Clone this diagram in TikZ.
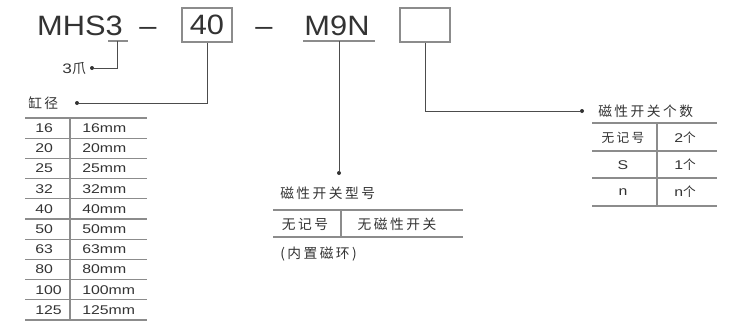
\documentclass[tikz,border=0pt]{standalone}
\usepackage{fontspec}
\setmainfont{Liberation Sans}[FakeStretch=1.1]
\newfontfamily\tabfont{Liberation Sans}[FakeStretch=1.25]
\newfontfamily\cjk{Noto Sans CJK SC}[LetterSpace=18]
\begin{document}
\begin{tikzpicture}[x=0.75pt,y=-0.75pt,
  code/.style={font=\fontsize{21}{21}\selectfont,text=black!80,inner sep=0pt},
  lbl/.style={font=\cjk\fontsize{10.3}{11}\selectfont,text=black!80,inner sep=0pt},
  cell/.style={font=\tabfont\fontsize{9.5}{10}\selectfont,text=black!80,inner sep=0pt},
  slot/.style={draw=black!45,line width=0.8pt,minimum width=37.5pt,minimum height=25.5pt,inner sep=0pt},
  rule/.style={draw=black!45,line width=0.8pt},
  lead/.style={draw=black!70,line width=0.7pt},
  tip/.style={circle,fill=black!80,inner sep=0pt,minimum size=3pt}]
\useasboundingbox (0,0) rectangle (736,325);

% ---- model code ----
\node[code,anchor=base] (mhs) at (80,35) {MHS3};
\node[code,anchor=base] (dashA) at (148,35) {–};
\node[code,slot] (bore) at (207,25) {40};
\node[code,anchor=base] (dashB) at (264,35) {–};
\node[code,anchor=base] (sw) at (337,35) {M9N};
\node[slot] (cnt) at (425,25) {};

% underlines
\coordinate (u3L) at (108,41);  \coordinate (u3R) at (128,41);
\coordinate (swL) at (303,41);  \coordinate (swR) at (375,41);
\draw[rule] (u3L) -- (u3R);
\draw[rule] (swL) -- (swR);
\coordinate (u3) at (117,41);
\coordinate (swTop) at (339,41);

% ---- leader dots ----
\node[tip] (dClaw) at (92,68) {};
\node[tip] (dBore) at (77,103) {};
\node[tip] (dSw) at (339,173) {};
\node[tip] (dCnt) at (582,111) {};

\draw[lead] (u3) |- (dClaw);
\draw[lead] (bore.south) |- (dBore);
\draw[lead] (swTop) -- (dSw);
\draw[lead] (cnt.south) |- (dCnt);

% ---- 3 jaws ----
\node[lbl,anchor=east] (claw) at (86,68) {{\tabfont 3}爪};

% ---- bore table ----
\node[lbl,anchor=west] (boreT) at (28,103) {缸径};
\draw[rule] (25,118) -- (147,118);
\draw[rule] (70,118) -- (70,320);
\foreach \d [count=\i from 0] in {16,20,25,32,40,50,63,80,100,125}{
  \node[cell,anchor=west] (dia\i) at (35,{128.1+20.2*\i}) {\d};
  \node[cell,anchor=west] (mm\i) at (82,{128.1+20.2*\i}) {\d mm};
  \draw[rule] (25,{138.2+20.2*\i}) -- (147,{138.2+20.2*\i});
}

% ---- switch model table ----
\node[lbl,anchor=west] (swT) at (280,193) {磁性开关型号};
\draw[rule] (273,210) -- (463,210);
\draw[rule] (273,237) -- (463,237);
\draw[rule] (341,210) -- (341,237);
\node[lbl] (swA) at (305,224) {无记号};
\node[lbl] (swB) at (397,224) {无磁性开关};
\node[lbl,anchor=west] (swN) at (280,254) {(内置磁环)};

% ---- switch count table ----
\node[lbl,anchor=west] (cntT) at (598,111) {磁性开关个数};
\foreach \y in {123,151,178,206}
  \draw[rule] (592,\y) -- (717,\y);
\draw[rule] (657,123) -- (657,206);
\foreach \a/\b/\y [count=\i] in {{\cjk 无记号}/{2\cjk 个}/138, S/{1\cjk 个}/165, n/{n\cjk 个}/192}{
  \node[cell] (cA\i) at (623,\y) {\a};
  \node[cell] (cB\i) at (685,\y) {\b};
}
\end{tikzpicture}
\end{document}
